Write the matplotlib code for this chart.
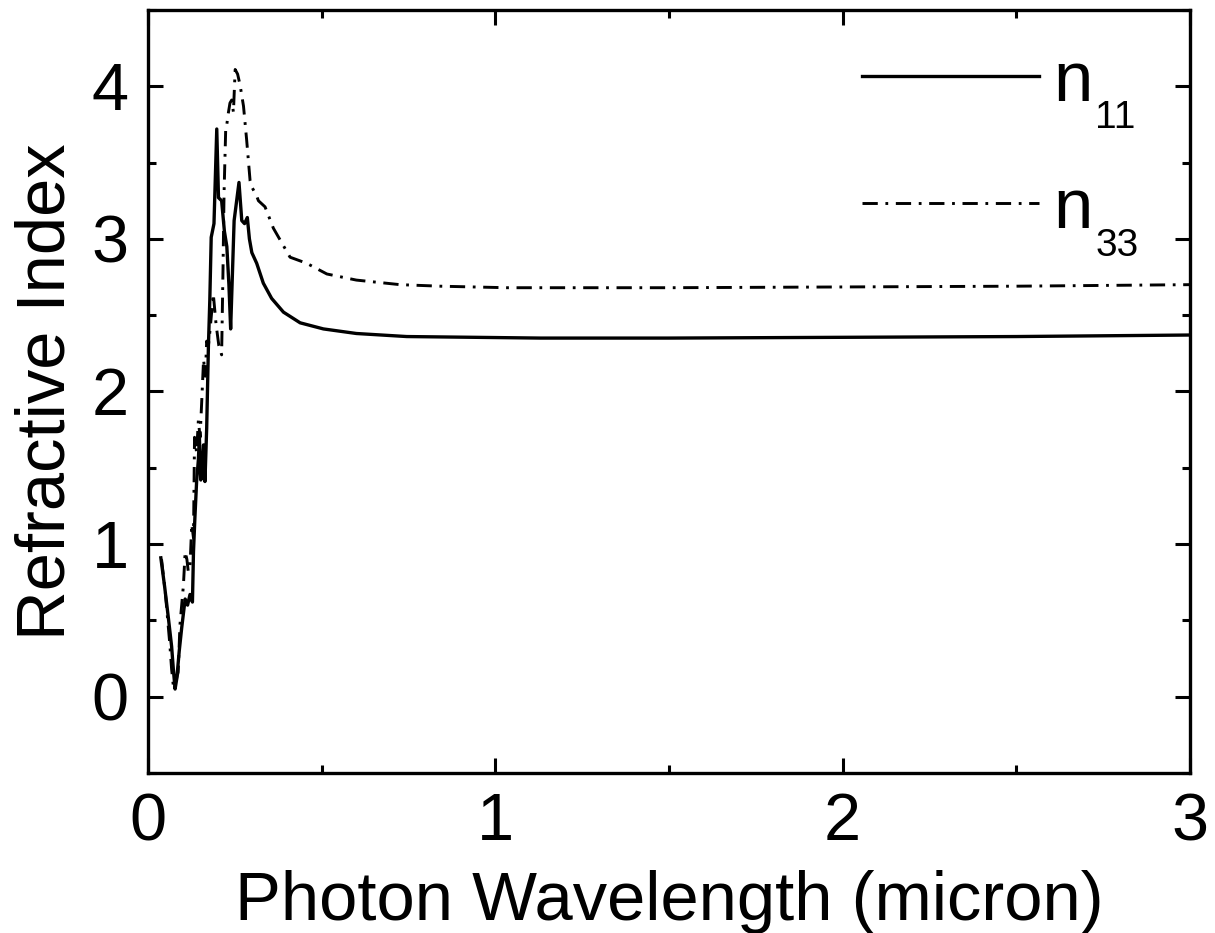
"""Refractive index n11 / n33 versus photon wavelength."""

import matplotlib

matplotlib.use("Agg")
import matplotlib.pyplot as plt
from matplotlib.ticker import MultipleLocator

plt.rcParams["font.family"] = ["Liberation Sans", "DejaVu Sans"]
plt.rcParams["lines.scale_dashes"] = False

# values
wl_11 = [0.037, 0.048, 0.059, 0.068, 0.073, 0.078, 0.083, 0.090, 0.097, 0.107,
         0.114, 0.121, 0.128, 0.131, 0.135, 0.140, 0.145, 0.148, 0.152, 0.155,
         0.160, 0.164, 0.169, 0.174, 0.178, 0.182, 0.190, 0.198, 0.203, 0.212,
         0.220, 0.227, 0.233, 0.238, 0.248, 0.262, 0.270, 0.278, 0.286, 0.292,
         0.299, 0.313, 0.332, 0.356, 0.390, 0.438, 0.505, 0.600, 0.745, 0.940,
         1.130, 1.500, 2.000, 2.500, 3.000]
n_11 = [0.91, 0.72, 0.51, 0.33, 0.18, 0.05, 0.12, 0.30, 0.45, 0.64,
        0.60, 0.67, 0.62, 0.95, 1.17, 1.41, 1.55, 1.70, 1.42, 1.44,
        1.65, 1.41, 1.76, 2.30, 2.60, 3.01, 3.10, 3.72, 3.27, 3.25,
        3.05, 2.95, 2.70, 2.41, 3.12, 3.37, 3.12, 3.10, 3.14, 3.00,
        2.91, 2.84, 2.71, 2.61, 2.52, 2.45, 2.41, 2.38, 2.36, 2.355,
        2.35, 2.35, 2.355, 2.36, 2.37]

wl_33 = [0.039, 0.050, 0.063, 0.068, 0.073, 0.080, 0.087, 0.092, 0.097, 0.102,
         0.107, 0.112, 0.116, 0.121, 0.126, 0.131, 0.134, 0.140, 0.145, 0.150,
         0.155, 0.160, 0.165, 0.169, 0.174, 0.179, 0.188, 0.196, 0.204, 0.212,
         0.216, 0.219, 0.224, 0.227, 0.231, 0.236, 0.241, 0.246, 0.251, 0.258,
         0.265, 0.275, 0.284, 0.294, 0.299, 0.313, 0.318, 0.337, 0.361, 0.409,
         0.457, 0.515, 0.600, 0.726, 0.841, 1.033, 1.200, 1.500, 2.000, 2.500,
         3.000]
n_33 = [0.90, 0.68, 0.34, 0.18, 0.07, 0.10, 0.16, 0.47, 0.60, 0.73,
        0.95, 0.90, 0.82, 0.85, 1.13, 1.04, 1.70, 1.60, 1.81, 1.70,
        1.95, 2.21, 2.10, 2.33, 2.30, 2.41, 2.64, 2.44, 2.30, 2.24,
        2.80, 3.30, 3.74, 3.75, 3.82, 3.89, 3.91, 3.83, 4.11, 4.08,
        4.01, 3.87, 3.65, 3.38, 3.34, 3.28, 3.25, 3.21, 3.07, 2.88,
        2.84, 2.77, 2.73, 2.70, 2.69, 2.68, 2.68, 2.68, 2.685, 2.69,
        2.70]

labels = ["n", "n"]
subscripts = ["11", "33"]

fig = plt.figure(figsize=(12.15, 9.33), dpi=100)
ax = fig.add_axes([0.1218, 0.1715, 0.8576, 0.8178])

line_11, = ax.plot(wl_11, n_11, color="black", linewidth=2.4)
line_33, = ax.plot(wl_33, n_33, color="black", linewidth=2.1,
                   dashes=(11, 5.5, 2, 5.5))

ax.set_xlim(0, 3)
ax.set_ylim(-0.5, 4.5)
ax.xaxis.set_major_locator(MultipleLocator(1))
ax.xaxis.set_minor_locator(MultipleLocator(0.5))
ax.yaxis.set_major_locator(MultipleLocator(1))
ax.yaxis.set_minor_locator(MultipleLocator(0.5))
ax.tick_params(which="both", direction="in", top=True, right=True, width=2.2)
ax.tick_params(which="major", length=11, labelsize=48, pad=14)
ax.tick_params(which="minor", length=6)
for spine in ax.spines.values():
    spine.set_linewidth(2.4)

ax.set_xlabel("Photon Wavelength (micron)", fontsize=49.5, labelpad=11)
ax.set_ylabel("Refractive Index", fontsize=49.5, labelpad=9)

leg = ax.legend([line_11, line_33], labels, loc="upper left",
                bbox_to_anchor=(0.685, 0.948), frameon=False, fontsize=51,
                handlelength=2.5, handletextpad=0.2, labelspacing=0.87,
                borderpad=0, borderaxespad=0)
for text, sub in zip(leg.get_texts(), subscripts):
    ax.annotate(sub, xy=(1, 0), xycoords=text, xytext=(2, 11),
                textcoords="offset points", fontsize=28, va="top",
                ha="left", zorder=6)

fig.savefig("out.png", dpi=100)
